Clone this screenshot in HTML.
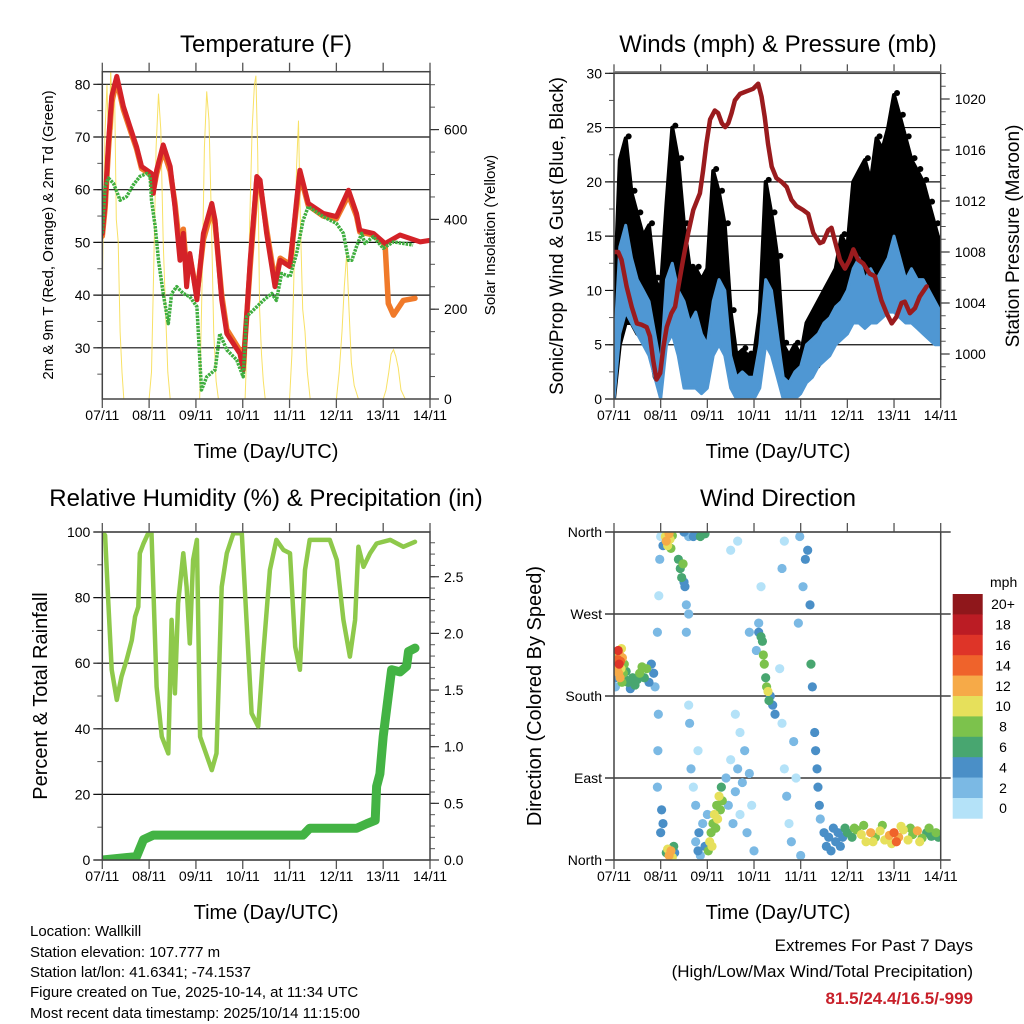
<!DOCTYPE html>
<html><head><meta charset="utf-8"><style>
html,body{margin:0;padding:0;background:#fff}
svg{display:block;font-family:"Liberation Sans",Arial,sans-serif}
</style></head><body>
<svg id="chart" width="1024" height="1024" viewBox="0 0 1024 1024" xmlns="http://www.w3.org/2000/svg">
<rect x="0" y="0" width="1024" height="1024" fill="#fff"/>
<defs>
<clipPath id="c1"><rect x="102.3" y="71.7" width="327.7" height="327.3"/></clipPath>
<clipPath id="c2"><rect x="614" y="73.3" width="326.7" height="325.7"/></clipPath>
<clipPath id="c3"><rect x="102.3" y="532" width="327.7" height="328"/></clipPath>
<clipPath id="c4"><rect x="614" y="532" width="326.7" height="328"/></clipPath>
</defs>
<text x="266" y="52" font-size="24" text-anchor="middle">Temperature (F)</text>
<text x="778" y="52" font-size="24" text-anchor="middle">Winds (mph) &amp; Pressure (mb)</text>
<text x="266" y="506" font-size="24" text-anchor="middle">Relative Humidity (%) &amp; Precipitation (in)</text>
<text x="778" y="506" font-size="24" text-anchor="middle">Wind Direction</text>
<text x="266" y="458" font-size="20" text-anchor="middle">Time (Day/UTC)</text>
<text x="778" y="458" font-size="20" text-anchor="middle">Time (Day/UTC)</text>
<text x="266" y="919" font-size="20" text-anchor="middle">Time (Day/UTC)</text>
<text x="778" y="919" font-size="20" text-anchor="middle">Time (Day/UTC)</text>
<text x="53" y="235" font-size="15" text-anchor="middle" transform="rotate(-90 53 235)">2m &amp; 9m T (Red, Orange) &amp; 2m Td (Green)</text>
<text x="495" y="235" font-size="15" text-anchor="middle" transform="rotate(-90 495 235)">Solar Insolation (Yellow)</text>
<text x="563" y="236" font-size="19" text-anchor="middle" transform="rotate(-90 563 236)">Sonic/Prop Wind &amp; Gust (Blue, Black)</text>
<text x="1019" y="236" font-size="19" text-anchor="middle" transform="rotate(-90 1019 236)">Station Pressure (Maroon)</text>
<text x="47" y="696" font-size="20" text-anchor="middle" transform="rotate(-90 47 696)">Percent &amp; Total Rainfall</text>
<text x="541" y="696" font-size="20" text-anchor="middle" transform="rotate(-90 541 696)">Direction (Colored By Speed)</text>
<g font-size="15">
<text x="30" y="936">Location: Wallkill</text>
<text x="30" y="957">Station elevation: 107.777 m</text>
<text x="30" y="977">Station lat/lon: 41.6341; -74.1537</text>
<text x="30" y="997">Figure created on Tue, 2025-10-14, at 11:34 UTC</text>
<text x="30" y="1018">Most recent data timestamp: 2025/10/14 11:15:00</text>
</g>
<g font-size="17" text-anchor="end">
<text x="973" y="951">Extremes For Past 7 Days</text>
<text x="973" y="977">(High/Low/Max Wind/Total Precipitation)</text>
<text x="973" y="1004" fill="#c8202a" font-weight="bold">81.5/24.4/16.5/-999</text>
</g>
</svg>
<script>
// ---------- data ----------
const dayLabels=["07/11","08/11","09/11","10/11","11/11","12/11","13/11","14/11"];
const tempTime=[0,.06,.13,.2,.31,.45,.59,.73,.84,1.05,1.09,1.16,1.3,1.45,1.55,1.66,1.73,1.8,1.87,2.02,2.16,2.34,2.41,2.55,2.66,2.94,3.01,3.16,3.3,3.37,3.51,3.69,3.8,4.01,4.15,4.22,4.4,4.72,5.0,5.26,5.43,5.5,5.79,6.04,6.36,6.79,7.0];
const tempRed=[51.7,57.4,68.8,77.7,81.5,75.8,72,68.2,64.4,63.1,59.3,63.7,68.5,64.4,56.8,46.6,51.7,41.6,47.9,39.1,51.7,57.4,54.2,39.1,32.7,28.9,25.8,46.6,62.5,61.8,51.7,41.6,46.6,45.4,58,63.7,57.4,55.5,54.9,59.9,55.5,52.3,51.7,49.8,51.4,50.1,50.4];
const t9Time=[0,.06,.13,.2,.31,.45,.59,.73,.84,1.05,1.09,1.16,1.3,1.45,1.55,1.66,1.73,1.8,1.87,2.02,2.16,2.34,2.41,2.55,2.66,2.94,3.01,3.16,3.3,3.37,3.51,3.69,3.8,4.01,4.15,4.22,4.4,4.72,5.0,5.26,5.43,5.5,5.79,6.04,6.11,6.22,6.43,6.68];
const temp9m=[51.2,56.5,67.5,76.5,80.8,75.2,71.5,67.8,64,62.8,59.8,63,67.5,63.5,57.5,48.5,52.5,44.5,47.5,40,50.5,56.2,53.5,40,33.5,29.5,26.5,45.5,61.8,61,52.5,42.5,47,45.8,57,63,57,55,54.5,59,55,52,51.4,49.6,38.4,36.2,39,39.4];
const dewTime=[0,.06,.13,.24,.38,.52,.66,.8,.95,1.02,1.05,1.13,1.2,1.3,1.41,1.48,1.59,1.73,1.87,2.02,2.12,2.23,2.41,2.51,2.66,2.87,3.01,3.08,3.3,3.44,3.62,3.72,3.83,4.01,4.15,4.29,4.4,4.72,5.0,5.15,5.26,5.33,5.43,5.54,5.61,5.79,6.0,6.22,6.64];
const dewPt=[51.7,60.6,62.2,61.2,58,58.7,60.9,62.5,63.1,62.5,58,53,46.6,40.3,34.6,40.3,41.6,40.3,39.7,37.8,22,24.5,25.8,32.7,29.6,27.7,24.5,35.9,37.8,39,40.3,39,44.1,43.5,47.9,54.2,56.8,54.9,53.6,51.7,46.6,46.6,49.2,51.7,49.8,51.1,48.9,50.1,49.5];
const solarTime=[0,.03,.06,.1,.14,.18,.22,.26,.3,.34,.38,.42,.46,1.0,1.05,1.1,1.15,1.2,1.25,1.3,1.35,1.4,1.45,2.08,2.13,2.18,2.23,2.28,2.33,2.38,2.43,2.48,3.05,3.1,3.15,3.2,3.25,3.28,3.32,3.36,3.4,3.44,3.48,4.0,4.05,4.1,4.15,4.19,4.23,4.28,4.33,4.38,4.44,5.0,5.06,5.12,5.17,5.22,5.27,5.32,5.38,5.47,6.0,6.06,6.12,6.17,6.22,6.27,6.32,6.38,6.47];
const solarVal=[250,450,600,700,520,735,600,700,400,350,150,60,0,0,60,300,560,680,600,350,200,60,0,0,250,560,685,620,400,150,40,0,0,150,400,600,700,720,550,200,100,40,0,0,100,300,520,620,400,200,150,60,0,0,60,150,250,325,200,80,30,0,0,20,60,100,110,95,70,20,0];
const presTime=[0,.09,.16,.27,.38,.49,.59,.7,.77,.84,.91,.99,1.06,1.13,1.23,1.31,1.38,1.48,1.59,1.7,1.84,1.91,1.98,2.06,2.16,2.23,2.31,2.38,2.45,2.52,2.59,2.7,2.84,2.98,3.09,3.16,3.23,3.3,3.38,3.48,3.59,3.7,3.8,3.91,4.05,4.16,4.27,4.41,4.48,4.59,4.66,4.73,4.84,4.95,5.05,5.13,5.23,5.34,5.48,5.59,5.73,5.84,5.95,6.05,6.16,6.23,6.34,6.45,6.55,6.7];
const presVal=[1008,1008,1007.4,1005.3,1003.7,1002.4,1002.3,1002.1,1001.4,999.5,998,998.5,1000.6,1002.1,1003.2,1003.7,1005.3,1007.4,1009.5,1011.3,1012.6,1014.4,1016.5,1018.4,1019.1,1018.9,1018.1,1017.8,1018.1,1018.9,1019.9,1020.4,1020.6,1020.8,1021.2,1020.2,1018.6,1016.5,1014.7,1013.8,1013.5,1013.1,1012.1,1011.6,1011.3,1011,1009.5,1008.7,1008.8,1009.7,1009.9,1008.9,1007.4,1006.7,1007.4,1008.2,1007.4,1007.1,1006.3,1006.1,1004.2,1003.2,1002.4,1002.9,1004,1004.1,1003.2,1003.6,1004.5,1005.3];
const windBinTime=[0,.125,.25,.375,.5,.625,.75,.875,1,1.125,1.25,1.375,1.5,1.625,1.75,1.875,2,2.125,2.25,2.375,2.5,2.625,2.75,2.875,3,3.125,3.25,3.375,3.5,3.625,3.75,3.875,4,4.125,4.25,4.375,4.5,4.625,4.75,4.875,5,5.125,5.25,5.375,5.5,5.625,5.75,5.875,6,6.125,6.25,6.375,6.5,6.625,6.75,6.875,7];
const gustHi=[8,22,24,19,17,15,16,11,10,18,25,22,16,12,12,11,12,21,19,16,8,4,4.5,4,4,8,20,17,13,5,4,5,4,7,8,9,10,11,12,15,14,20,21,22,20,24,23,25,28,26,24,22,21,20,18,16,14];
const gustLo=[0,5,7,7,6,6,5,2,1,6,7,6,3,2,2,1,2,6,6,5,2,1.5,1.5,1.5,1.5,3,7,6,4,1,1,1.5,1.5,2,3,3,4,5,6,7,7,8,9,9,9,10,10,10,11,11,11,11,11,10,10,9,8];
const windHi=[4,14,16,13,11,10,9,6,3,11,12.5,10,9,7,8,6,5,9,11,10,4,2,2.5,2,2,5,11,10,6,2,1.5,2.5,3,5,5.5,6,7,7.5,8.5,9,10,12,13,11,12,11,12,13,15,13,11,12,11,11,10,9,8];
const windLo=[0,6,8,7,6,5,4,2,0,5,6,4,1,1,1,.5,1,4,5,4,1,0,0,0,0,1,5,4,2,0,0,0,.5,1.5,2,3,3.5,4,5,5.5,6,7,7,6.5,7,7,7.5,8,8,7.5,7,7,6.5,6,5.5,5,5];
const rhTime=[0,.06,.13,.2,.31,.41,.52,.63,.7,.77,.8,.88,.98,1.05,1.09,1.16,1.27,1.41,1.48,1.55,1.62,1.73,1.8,1.87,1.94,2.02,2.09,2.19,2.34,2.44,2.55,2.66,2.8,2.98,3.08,3.19,3.33,3.44,3.58,3.72,3.87,4.01,4.12,4.22,4.33,4.43,4.86,5.01,5.15,5.29,5.4,5.47,5.58,5.72,5.86,6.15,6.43,6.68];
const rhVal=[100,99,78,58,48.8,55.9,61,67,74.2,77.2,93.5,96.5,99.6,99.6,83.3,52.8,37.6,32.5,73.2,50.8,78.3,93.5,83.3,66,91.5,97.6,37.6,33.5,27.4,32.5,83.3,93.5,99.6,99.6,73.2,44.7,40.7,63,88.4,97.6,94.5,93.5,65,58,88.4,97.6,97.6,91.5,73.2,62,73.2,95.5,89.4,93.5,96.5,97.6,95.5,97];
const precipTime=[0,.73,.88,1.09,4.29,4.43,5.43,5.65,5.83,5.86,5.93,6,6.08,6.18,6.36,6.5,6.54,6.68];
const precipVal=[0,.03,.18,.22,.22,.28,.28,.32,.35,.65,.76,1.09,1.35,1.68,1.66,1.71,1.84,1.87];
const wdTime=[0.02,0.02,0.03,0.05,0.07,0.08,0.09,0.1,0.11,0.12,0.13,0.14,0.15,0.16,0.17,0.18,0.2,0.22,0.24,0.26,0.3,0.35,0.4,0.45,0.5,0.55,0.6,0.65,0.7,0.75,0.8,0.85,0.88,0.93,0.94,0.95,0.93,0.96,0.98,1.0,1.02,1.05,1.0,1.05,1.1,1.12,1.15,1.18,1.2,1.22,1.25,1.12,1.15,1.18,1.22,1.25,1.28,1.3,1.38,1.42,1.45,1.48,1.5,1.52,1.55,1.55,1.6,1.5,1.6,1.6,1.62,1.65,1.7,1.75,1.8,1.7,1.8,1.85,1.95,1.75,1.8,1.82,1.85,1.9,1.95,2.0,2.02,2.05,2.08,2.1,2.12,2.15,2.18,2.2,2.22,2.25,2.28,2.3,2.32,2.4,2.45,2.5,2.55,2.6,2.65,2.7,2.75,2.8,2.85,2.9,2.95,2.6,2.7,2.9,2.5,2.65,3.0,3.05,3.1,3.15,3.18,3.2,3.22,3.25,3.27,3.3,3.32,3.35,3.4,3.45,3.1,3.15,3.6,3.65,3.7,3.75,3.55,3.6,3.65,3.8,3.85,3.9,3.95,3.98,4.0,4.05,4.1,4.15,4.2,4.22,4.25,4.3,4.32,4.35,4.37,4.4,4.42,4.5,4.55,4.6,4.65,4.7,4.75,4.8,4.85,4.9,4.95,5.0,5.1,5.2,5.3,5.4,5.5,5.6,5.7,5.8,5.9,6.0,6.05,6.1,6.2,6.3,6.4,6.5,6.6,6.7,6.8,6.9,7.0,5.15,5.35,5.55,5.75,5.95,6.15,6.35,6.55,6.75,6.95];
const wdDir=[200,215,190,225,210,220,230,205,215,225,200,218,210,232,195,222,205,215,198,207,195,188,200,192,198,205,212,200,210,195,215,205,190,80,120,160,250,290,330,30,55,40,355,345,355,350,345,358,352,342,356,8,12,5,10,3,15,8,330,320,310,325,305,300,280,250,270,360,355,170,150,100,80,60,120,355,358,355,358,20,10,30,5,40,15,50,10,20,30,15,40,50,35,60,45,70,55,80,65,90,60,110,40,75,100,50,85,120,30,95,60,160,140,250,340,350,10,230,250,245,240,225,215,200,190,185,175,180,170,160,260,300,150,100,70,40,210,320,350,20,130,90,260,355,5,300,330,340,280,215,190,140,120,100,80,60,45,30,15,25,10,35,20,30,15,25,35,30,25,33,28,20,30,25,32,22,27,30,20,25,33,22,28,32,24,30,26,30,28,35,38,20,38,18,37,35,20,35,25];
const wdSpd=[5,4,3,8,13,15,16,12,17,12,13,14,11,10,9,12,8,9,7,6,6,5,6,7,7,8,9,6,8,5,4,4,3,3,2,2,2,1,2,4,5,4,1,4,10,12,11,13,10,8,9,7,11,13,12,10,6,4,6,7,7,8,5,4,3,3,2,4,3,1,2,2,1,2,1,4,4,6,6,3,4,5,3,2,4,3,9,10,9,11,8,10,9,8,11,10,8,7,8,3,2,1,2,3,2,1,3,2,2,3,1,1,1,2,1,1,3,3,4,6,7,8,9,7,8,10,7,5,4,4,3,1,1,1,2,1,1,2,1,2,2,1,2,2,2,3,4,5,5,6,4,4,5,5,4,5,3,4,5,4,5,4,5,5,4,5,6,6,7,9,10,11,12,9,10,11,12,14,15,12,10,11,9,12,8,7,7,8,7,8,9,10,8,11,10,9,10,8,7];
const speedBins=["0","2","4","6","8","10","12","14","16","18","20+"];
const speedColors=["#b4e2f8","#7bb9e4","#4a8fc7","#48a670","#7cc24c","#e6e05b","#f6aa48","#ef632b","#de3428","#bb1c24","#8f171b"];

// ---------- helpers ----------
const NS='http://www.w3.org/2000/svg';
const svg=document.getElementById('chart');
function mk(tag,attrs,parent){const e=document.createElementNS(NS,tag);for(const k in attrs)e.setAttribute(k,attrs[k]);(parent||svg).appendChild(e);return e;}
function line(x1,y1,x2,y2,stroke,w,name){
  const l=mk('line',{x1:x1,y1:y1,x2:x2,y2:y2,stroke:stroke,'stroke-width':w});
  
  
  return l;}
function txt(x,y,s,size,anchor,name){
  const t=mk('text',{x:x,y:y,'font-size':size,'text-anchor':anchor});
  t.textContent=s;
  
  
  return t;}
const B1={x0:102.3,x1:430,y0:71.7,y1:399};
const B2={x0:614,x1:940.7,y0:73.3,y1:399};
const B3={x0:102.3,x1:430,y0:532,y1:860};
const B4={x0:614,x1:940.7,y0:532,y1:860};
function xs(b){return d=>b.x0+d*(b.x1-b.x0)/7;}
const X1=xs(B1),X2=xs(B2),X3=xs(B3),X4=xs(B4);
const Yt=v=>84.3+(80-v)*5.27;
const Ys=v=>399-v*0.449;
const Yw=v=>399-v*10.857;
const Yp=v=>354-(v-1000)*12.75;
const Yrh=v=>860-v*3.28;
const Ypr=v=>860-v*113.3;
const Ydir=v=>860-v*328/360;

function xAxis(b,X,labY,pfx){
  for(let i=0;i<dayLabels.length;i++){
    const x=X(i);
    line(x,b.y0-9,x,b.y0,'#555',1.3,pfx+'-top-tick');
    line(x,b.y1,x,b.y1+9,'#555',1.3,pfx+'-bottom-tick');
    txt(x,labY,dayLabels[i],14,'middle',pfx+'-x-tick-label');
  }
}
function leftAxis(b,Y,majors,labels,minors,pfx,grid){
  for(const m of minors){line(b.x0-5,Y(m),b.x0,Y(m),'#555',1,pfx+'-left-minor-tick');}
  for(let i=0;i<majors.length;i++){
    const y=Y(majors[i]);
    line(b.x0-9,y,grid?b.x1:b.x0,y,'#111',1.2,pfx+'-gridline');
    txt(b.x0-12,y+5,labels[i],14,'end',pfx+'-left-tick-label');
  }
}
function rightAxis(b,Y,majors,labels,minors,pfx){
  for(const m of minors){line(b.x1,Y(m),b.x1+5,Y(m),'#555',1,pfx+'-right-minor-tick');}
  for(let i=0;i<majors.length;i++){
    const y=Y(majors[i]);
    line(b.x1,y,b.x1+9,y,'#333',1.2,pfx+'-right-major-tick');
    txt(b.x1+14,y+5,labels[i],14,'start',pfx+'-right-tick-label');
  }
}
function frame(b,name){
  const r=mk('rect',{x:b.x0,y:b.y0,width:b.x1-b.x0,height:b.y1-b.y0,fill:'none',stroke:'#444','stroke-width':1.5});
  
  
}
function group(clip,name){
  const g=mk('g',{'clip-path':'url(#'+clip+')'});
  
  
  return g;}
function pts(T,V,X,Y){return T.map((t,i)=>X(t).toFixed(1)+','+Y(V[i]).toFixed(1)).join(' ');}
function band(T,lo,hi,X,Y){
  const a=T.map((t,i)=>X(t).toFixed(1)+','+Y(hi[i]).toFixed(1));
  const b=T.map((t,i)=>X(t).toFixed(1)+','+Y(lo[i]).toFixed(1)).reverse();
  return a.concat(b).join(' ');}
function range(a,b,s){const r=[];for(let v=a;v<=b+1e-9;v+=s)r.push(+v.toFixed(3));return r;}

// ---------- panel 1: temperature ----------
leftAxis(B1,Yt,[30,40,50,60,70,80],["30","40","50","60","70","80"],range(25,80,5),'temp',true);
rightAxis(B1,Ys,[0,200,400,600],["0","200","400","600"],range(0,700,50),'solar');
xAxis(B1,X1,420,'temp');
const g1=group('c1','temperature-plot');
const sol=mk('polyline',{points:pts(solarTime,solarVal,X1,Ys),fill:'none',stroke:'#f7dc4a','stroke-width':1,opacity:0.85},g1);


const o9=mk('polyline',{points:pts(t9Time,temp9m,X1,Yt),fill:'none',stroke:'#f07a2a','stroke-width':5.5,'stroke-linejoin':'round','stroke-linecap':'round'},g1);


const r2=mk('polyline',{points:pts(tempTime,tempRed,X1,Yt),fill:'none',stroke:'#d42228','stroke-width':5,'stroke-linejoin':'round','stroke-linecap':'round'},g1);


const dw=mk('polyline',{points:pts(dewTime,dewPt,X1,Yt),fill:'none',stroke:'#3fae3f','stroke-width':3.5,'stroke-dasharray':'2.5 1','stroke-linejoin':'round'},g1);


frame(B1,'temperature-frame');

// ---------- panel 2: winds ----------
leftAxis(B2,Yw,[0,5,10,15,20,25,30],["0","5","10","15","20","25","30"],range(0,30,2.5),'wind',true);
rightAxis(B2,Yp,[1000,1004,1008,1012,1016,1020],["1000","1004","1008","1012","1016","1020"],range(998,1022,1),'pressure');
xAxis(B2,X2,420,'wind');
const g2=group('c2','winds-plot');
const gb=mk('polygon',{points:band(windBinTime,gustLo,gustHi,X2,Yw),fill:'#000',stroke:'#000','stroke-width':4,'stroke-linejoin':'round'},g2);


for(let i=0;i<windBinTime.length;i++){
  const c=mk('circle',{cx:X2(windBinTime[i])+3,cy:Yw(gustHi[i])-2,r:3,fill:'#000'},g2);
  
  
}
const wb=mk('polygon',{points:band(windBinTime,windLo,windHi,X2,Yw),fill:'#4f97d3',stroke:'#4f97d3','stroke-width':3,'stroke-linejoin':'round'},g2);


const pl=mk('polyline',{points:pts(presTime,presVal,X2,Yp),fill:'none',stroke:'#9a1b1e','stroke-width':4.5,'stroke-linejoin':'round','stroke-linecap':'round'},g2);


frame(B2,'winds-frame');
line(B2.x0,B2.y0-1.5,B2.x1,B2.y0-1.5,'#888',1.5,'winds-top-double-line');

// ---------- panel 3: humidity & precip ----------
leftAxis(B3,Yrh,[0,20,40,60,80,100],["0","20","40","60","80","100"],range(0,100,10),'rh',true);
rightAxis(B3,Ypr,[0,0.5,1,1.5,2,2.5],["0.0","0.5","1.0","1.5","2.0","2.5"],range(0,2.8,0.1),'precip');
xAxis(B3,X3,881,'rh');
const g3=group('c3','humidity-plot');
const rh=mk('polyline',{points:pts(rhTime,rhVal,X3,Yrh),fill:'none',stroke:'#8ec94b','stroke-width':4.5,'stroke-linejoin':'round','stroke-linecap':'round'},g3);


const pr=mk('polyline',{points:pts(precipTime,precipVal,X3,Ypr),fill:'none',stroke:'#43b344','stroke-width':9,'stroke-linejoin':'round','stroke-linecap':'round'},g3);


frame(B3,'humidity-frame');

// ---------- panel 4: wind direction ----------
leftAxis(B4,Ydir,[0,90,180,270,360],["North","East","South","West","North"],[],'dir',true);
for(const v of [0,90,180,270,360]){line(B4.x1,Ydir(v),B4.x1+10,Ydir(v),'#111',1.2,'dir-gridline-extension');}
xAxis(B4,X4,881,'dir');
const g4=group('c4','wind-direction-plot');
function spdColor(s){let k=Math.floor(s/2);if(k>10)k=10;if(k<0)k=0;return speedColors[k];}
const order=wdSpd.map((s,i)=>i).sort((a,b)=>wdSpd[a]-wdSpd[b]);
for(const i of order){
  const c=mk('circle',{cx:X4(wdTime[i]),cy:Ydir(wdDir[i]),r:4.6,fill:spdColor(wdSpd[i])},g4);
  
  
}
frame(B4,'wind-direction-frame');

// colorbar legend
const cbTop=594,cbH=20.4;
txt(990,587,'mph',14,'start','legend-title');
for(let i=0;i<speedBins.length;i++){
  const k=speedBins.length-1-i;
  const y=cbTop+i*cbH;
  const r=mk('rect',{x:952.7,y:y,width:30,height:cbH+0.3,fill:speedColors[k]});
  
  
  txt(1003,y+cbH/2+5,speedBins[k],14,'middle','legend-entry');
}
</script>
</body></html>
